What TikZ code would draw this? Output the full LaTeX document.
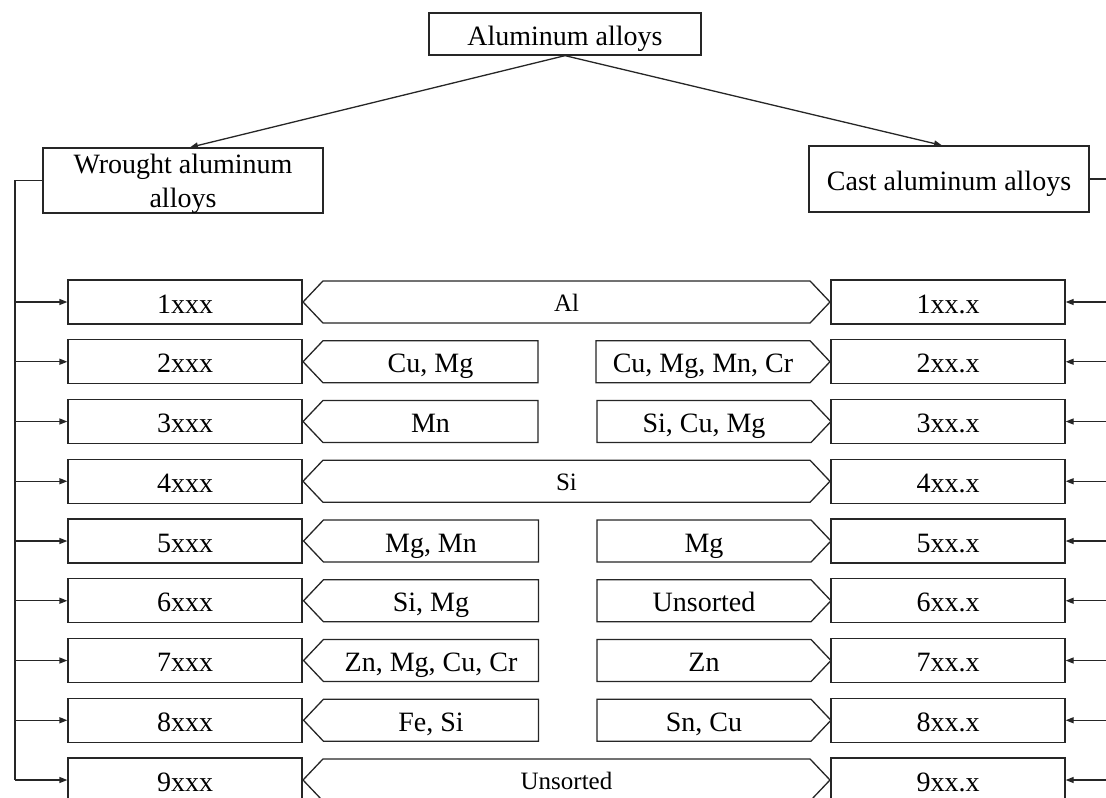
\documentclass[tikz,border=0pt]{standalone}
\usepackage{fontspec}
\setmainfont{Liberation Serif}
\usetikzlibrary{arrows.meta,shapes.symbols}

\begin{document}
\begin{tikzpicture}[
  x=1pt, y=-1pt,
  box/.style={draw=black!85, line width=1.3pt, inner sep=0pt, fill=white, font=\fontsize{28}{34}\selectfont},
  series/.style={box, minimum width=234pt, minimum height=44pt, text height=24pt, text depth=2pt},
  tag/.style={box, shape=signal, signal pointer angle=93, minimum height=42pt, text height=24pt, text depth=2pt},
  tagboth/.style={tag, signal to=west and east, minimum width=527pt, text height=20pt, text depth=2pt, font=\fontsize{25}{29}\selectfont},
  tagwest/.style={tag, signal to=west, minimum width=235pt},
  tageast/.style={tag, signal to=east, minimum width=234pt},
  link/.style={draw=black!85, line width=1.3pt, -{Triangle[length=8pt,width=6pt]}},
  bus/.style={draw=black!85, line width=1.3pt}
]
  \useasboundingbox (0,0) rectangle (1106,798);
  % top of the tree
  \node[box, minimum width=272pt, minimum height=42pt, text height=24pt, text depth=2pt] (al) at (565,34) {Aluminum alloys};
  \node[box, minimum width=280pt, minimum height=65pt, text depth=0pt, align=center] (wr) at (183,180.5) {Wrought aluminum\\alloys};
  \node[box, minimum width=280pt, minimum height=66pt, text height=24pt, text depth=2pt] (ca) at (949,179) {Cast aluminum alloys};
  \draw[link] (al.south) -- ([xshift=7pt]wr.north);
  \draw[link] (al.south) -- ([xshift=-7pt]ca.north);
  % wrought series
  \node[series] (w1) at (185,302) {1xxx};
  \node[series] (w2) at (185,361.75) {2xxx};
  \node[series] (w3) at (185,421.5) {3xxx};
  \node[series] (w4) at (185,481.25) {4xxx};
  \node[series] (w5) at (185,541) {5xxx};
  \node[series] (w6) at (185,600.75) {6xxx};
  \node[series] (w7) at (185,660.5) {7xxx};
  \node[series] (w8) at (185,720.25) {8xxx};
  \node[series] (w9) at (185,780) {9xxx};
  % cast series
  \node[series] (c1) at (948,302) {1xx.x};
  \node[series] (c2) at (948,361.75) {2xx.x};
  \node[series] (c3) at (948,421.5) {3xx.x};
  \node[series] (c4) at (948,481.25) {4xx.x};
  \node[series] (c5) at (948,541) {5xx.x};
  \node[series] (c6) at (948,600.75) {6xx.x};
  \node[series] (c7) at (948,660.5) {7xx.x};
  \node[series] (c8) at (948,720.25) {8xx.x};
  \node[series] (c9) at (948,780) {9xx.x};
  % main alloying elements
  \node[tagboth] (e1) at (566.5,302) {Al};
  \node[tagwest] (e2w) at (430.5,361.75) {Cu, Mg};
  \node[tageast] (e2c) at (703,361.75) {Cu, Mg, Mn, Cr};
  \node[tagwest] (e3w) at (430.5,421.5) {Mn};
  \node[tageast] (e3c) at (704,421.5) {Si, Cu, Mg};
  \node[tagboth] (e4) at (566.5,481.25) {Si};
  \node[tagwest] (e5w) at (431,541) {Mg, Mn};
  \node[tageast] (e5c) at (704,541) {Mg};
  \node[tagwest] (e6w) at (431,600.75) {Si, Mg};
  \node[tageast] (e6c) at (704,600.75) {Unsorted};
  \node[tagwest] (e7w) at (431,660.5) {Zn, Mg, Cu, Cr};
  \node[tageast] (e7c) at (704,660.5) {Zn};
  \node[tagwest] (e8w) at (431,720.25) {Fe, Si};
  \node[tageast] (e8c) at (704,720.25) {Sn, Cu};
  \node[tagboth] (e9) at (566.5,780) {Unsorted};
  % left bus
  \coordinate (lbus) at (15,0);
  \draw[bus] (wr.west) -- (wr.west -| lbus) -- (w9.west -| lbus);
  \draw[link] (w1.west -| lbus) -- (w1.west);
  \draw[link] (w2.west -| lbus) -- (w2.west);
  \draw[link] (w3.west -| lbus) -- (w3.west);
  \draw[link] (w4.west -| lbus) -- (w4.west);
  \draw[link] (w5.west -| lbus) -- (w5.west);
  \draw[link] (w6.west -| lbus) -- (w6.west);
  \draw[link] (w7.west -| lbus) -- (w7.west);
  \draw[link] (w8.west -| lbus) -- (w8.west);
  \draw[link] (w9.west -| lbus) -- (w9.west);
  % right bus
  \coordinate (rbus) at (1107,0);
  \draw[bus] (ca.east) -- (ca.east -| rbus) -- (c9.east -| rbus);
  \draw[link] (c1.east -| rbus) -- (c1.east);
  \draw[link] (c2.east -| rbus) -- (c2.east);
  \draw[link] (c3.east -| rbus) -- (c3.east);
  \draw[link] (c4.east -| rbus) -- (c4.east);
  \draw[link] (c5.east -| rbus) -- (c5.east);
  \draw[link] (c6.east -| rbus) -- (c6.east);
  \draw[link] (c7.east -| rbus) -- (c7.east);
  \draw[link] (c8.east -| rbus) -- (c8.east);
  \draw[link] (c9.east -| rbus) -- (c9.east);
\end{tikzpicture}
\end{document}
